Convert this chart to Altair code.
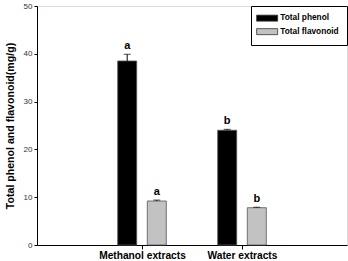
import altair as alt
import pandas as pd

groups = ["Methanol extracts", "Water extracts"]
series = ["Total phenol", "Total flavonoid"]
phenol = [38.5, 24.0]
phenol_err = [1.4, 0.2]
flavonoid = [9.2, 7.8]
flavonoid_err = [0.2, 0.1]
phenol_letters = ["a", "b"]
flavonoid_letters = ["a", "b"]

rows = []
for gi, g in enumerate(groups):
    for si, (s, vals, errs, lets) in enumerate([
        (series[0], phenol, phenol_err, phenol_letters),
        (series[1], flavonoid, flavonoid_err, flavonoid_letters),
    ]):
        rows.append({
            "group": g,
            "series": s,
            "pos": gi + 1 + (-0.148 if si == 0 else 0.148),
            "value": vals[gi],
            "top": vals[gi] + errs[gi],
            "letter": lets[gi],
        })
df = pd.DataFrame(rows)

FONT = "Liberation Sans"

x_enc = alt.X("pos:Q", scale=alt.Scale(domain=[0, 3], nice=False, zero=False),
              axis=alt.Axis(values=[1, 2], title=None, grid=False,
                            labelExpr="datum.value == 1 ? 'Methanol extracts' : 'Water extracts'",
                            labelFont=FONT, labelFontWeight="bold", labelFontSize=10.2,
                            labelColor="black", tickColor="black", domainColor="black",
                            tickSize=4, labelPadding=1, labelFlush=False))
y_enc = alt.Y("value:Q", scale=alt.Scale(domain=[0, 50], nice=False),
              axis=alt.Axis(values=[0, 10, 20, 30, 40, 50], title="Total phenol and flavonoid(mg/g)",
                            grid=False, labelFont=FONT, labelFontSize=8, labelColor="#333",
                            titleFont=FONT, titleFontWeight="bold", titleFontSize=10.6,
                            titleColor="black", tickColor="black", domainColor="black",
                            tickSize=3, labelPadding=2, titlePadding=8))

color = alt.Color("series:N", scale=alt.Scale(domain=series, range=["#000000", "#c2c2c2"]),
                  legend=alt.Legend(title=None, orient="top-right", offset=0,
                                    strokeColor="black", padding=8, rowPadding=3.5,
                                    symbolType="M-3.5,-1H3.5V1H-3.5Z", symbolSize=36,
                                    symbolOffset=4, labelOffset=9,
                                    symbolStrokeColor="#333", symbolStrokeWidth=0.8,
                                    labelFont=FONT, labelFontWeight="bold", labelFontSize=8.3,
                                    labelColor="black", fillColor="white"),
                  sort=series)

base = alt.Chart(df)

bars = base.mark_bar(size=19, stroke="#555", strokeWidth=0.8).encode(x=x_enc, y=y_enc, color=color)
rules = base.mark_rule(color="black", strokeWidth=1).encode(x="pos:Q", y="value:Q", y2="top:Q")
caps = base.mark_tick(color="black", orient="horizontal", size=7, thickness=1).encode(x="pos:Q", y="top:Q")
labels = base.mark_text(baseline="bottom", dy=-3, font=FONT, fontWeight="bold", fontSize=11, color="black").encode(
    x="pos:Q", y="top:Q", text="letter:N")

chart = alt.layer(bars, rules, caps, labels).properties(
    width=310, height=239,
    autosize=alt.AutoSizeParams(type="none"),
    padding={"left": 37, "top": 6, "right": 1, "bottom": 16},
).configure_view(stroke="black", strokeWidth=1).configure(background="white")

chart.save("out.html", embed_options={"renderer": "svg", "actions": False})
